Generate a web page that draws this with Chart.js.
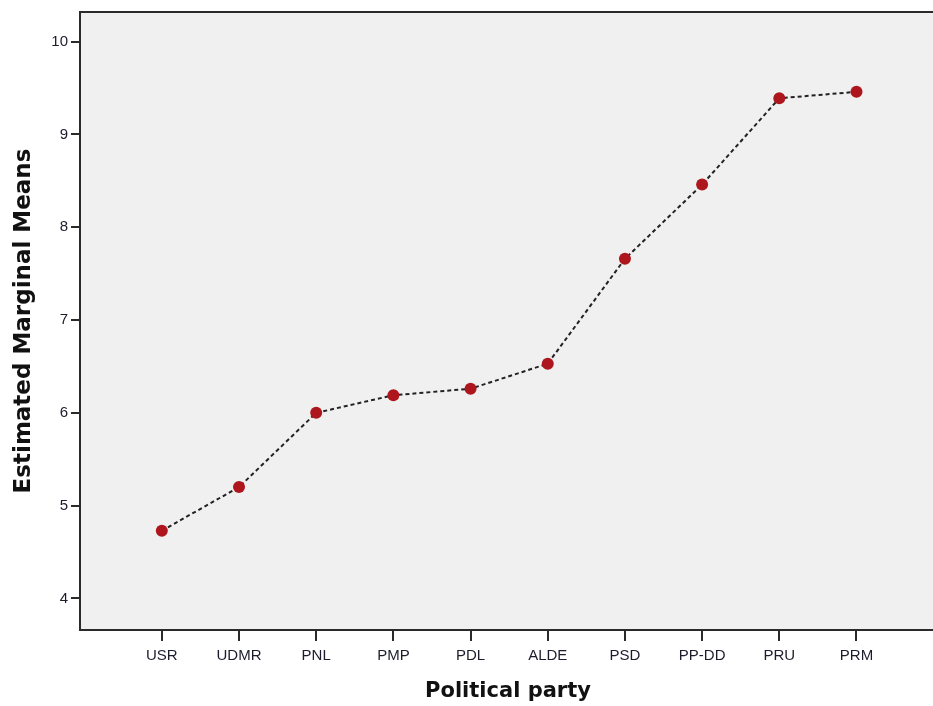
<!DOCTYPE html>
<html>
<head>
<meta charset="utf-8">
<script src="https://cdn.jsdelivr.net/npm/chart.js@4.4.0/dist/chart.umd.min.js"></script>
<style>
  html, body { margin: 0; padding: 0; background: #fff; overflow: hidden; }
  #wrap { position: absolute; left: 0; top: 0; width: 942px; height: 706px; }
</style>
</head>
<body>
<div id="wrap"><canvas id="c" width="942" height="706"></canvas></div>
<script>
const categories = ['USR', 'UDMR', 'PNL', 'PMP', 'PDL', 'ALDE', 'PSD', 'PP-DD', 'PRU', 'PRM'];
const meanValues = [4.73, 5.20, 6.00, 6.19, 6.26, 6.53, 7.66, 8.46, 9.39, 9.46];
const yTickValues = [4, 5, 6, 7, 8, 9, 10];
const xTitle = 'Political party';
const yTitle = 'Estimated Marginal Means';

const points = meanValues.map((v, i) => ({ x: i + 1, y: v }));

const areaPlugin = {
  id: 'area',
  beforeDraw(chart) {
    const { ctx, chartArea: a } = chart;
    ctx.save();
    ctx.fillStyle = '#f0f0f0';
    ctx.fillRect(a.left, a.top, a.right - a.left, a.bottom - a.top);
    ctx.strokeStyle = '#2a2a2a';
    ctx.lineWidth = 2;
    ctx.beginPath();
    ctx.moveTo(a.left, a.top);
    ctx.lineTo(a.right, a.top);
    ctx.stroke();
    ctx.restore();
  }
};

const tickFont = { family: '"Liberation Sans", Arial, sans-serif', size: 15 };
const xTitleFont = { family: '"DejaVu Sans", Verdana, sans-serif', size: 21, weight: 'bold' };
const yTitleFont = { family: '"DejaVu Sans", Verdana, sans-serif', size: 23, weight: 'bold' };

new Chart(document.getElementById('c'), {
  type: 'line',
  data: {
    datasets: [{
      data: points,
      borderColor: '#222222',
      borderWidth: 2,
      borderDash: [4, 3],
      pointRadius: 6,
      pointHoverRadius: 6,
      pointBackgroundColor: '#ad161c',
      pointBorderColor: '#ad161c',
      pointBorderWidth: 0,
      tension: 0,
      fill: false
    }]
  },
  options: {
    responsive: false,
    animation: false,
    layout: { padding: { top: 10, left: 0, right: 0, bottom: 0 } },
    plugins: { legend: { display: false }, tooltip: { enabled: false }, title: { display: false } },
    scales: {
      x: {
        type: 'linear',
        min: -0.06,
        max: 11.03,
        afterBuildTicks(axis) {
          axis.ticks = categories.map((c, i) => ({ value: i + 1 }));
        },
        afterFit(axis) { axis.height = 76; },
        ticks: {
          autoSkip: false,
          maxRotation: 0,
          padding: 6,
          color: '#1c1c2c',
          font: tickFont,
          callback: (v) => categories[v - 1] || ''
        },
        grid: { display: true, drawOnChartArea: false, drawTicks: true, tickLength: 11, color: '#2a2a2a', lineWidth: 2 },
        border: { display: true, color: '#2a2a2a', width: 2 },
        title: { display: true, text: xTitle, color: '#111', font: xTitleFont, padding: { top: 0, bottom: 2 } }
      },
      y: {
        type: 'linear',
        min: 3.66,
        max: 10.32,
        afterBuildTicks(axis) {
          axis.ticks = yTickValues.map(v => ({ value: v }));
        },
        afterFit(axis) { axis.width = 80; },
        ticks: { padding: 3, color: '#1c1c2c', font: tickFont },
        grid: { display: true, drawOnChartArea: false, drawTicks: true, tickLength: 9, color: '#2a2a2a', lineWidth: 2 },
        border: { display: true, color: '#2a2a2a', width: 2 },
        title: { display: true, text: yTitle, color: '#111', font: yTitleFont, padding: { top: 10, bottom: 0 } }
      }
    }
  },
  plugins: [areaPlugin]
});
</script>
</body>
</html>
